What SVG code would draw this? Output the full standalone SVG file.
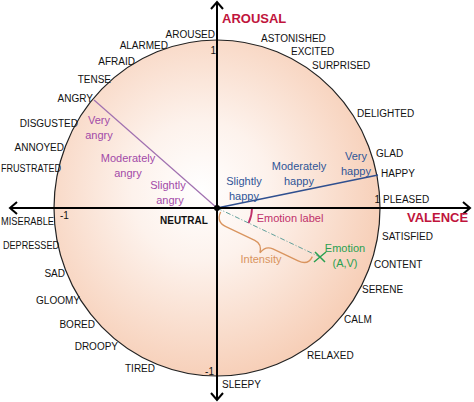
<svg xmlns="http://www.w3.org/2000/svg" width="474" height="402" viewBox="0 0 474 402">
<style>
.l{font-family:"Liberation Sans",Arial,sans-serif;font-size:10px;fill:#111}
.e{text-anchor:end}
.c{font-family:"Liberation Sans",Arial,sans-serif;font-size:11px;text-anchor:middle}
.p{fill:#a24aa8}
.b{fill:#2f5597}
.ax{font-family:"Liberation Sans",Arial,sans-serif;font-size:13px;font-weight:bold;fill:#c0143c}
</style>
<defs>
<radialGradient id="g" cx="0.45" cy="0.45" r="0.6">
<stop offset="0" stop-color="#ffffff"/>
<stop offset="0.35" stop-color="#fdf2ec"/>
<stop offset="1" stop-color="#f6cbb2"/>
</radialGradient>
</defs>
<g id="circle">
<ellipse cx="217" cy="208" rx="163" ry="168" fill="url(#g)" stroke="#222" stroke-width="1.2"/>
</g>
<g id="connectors" fill="none">
<line x1="94" y1="100" x2="217" y2="208" stroke="#a070b0" stroke-width="1.2"/>
<line x1="217" y1="208" x2="378" y2="175" stroke="#2f4f8f" stroke-width="1.5"/>
<line x1="217" y1="208" x2="320" y2="257" stroke="#5f9f9a" stroke-width="1" stroke-dasharray="5 2 1 2"/>
<path d="M252,208 A35,35 0 0 1 248.6,223" stroke="#c0306a" stroke-width="1.8"/>
<path transform="translate(217,208) rotate(25.4)" d="M5,2 Q5,13 16,13 L48,13 Q56,13 58,22 Q60,13 68,13 L96,13 Q107,13 107,3" stroke="#d9945e" stroke-width="1.3"/>
<path d="M315,252 L325,262 M314,262 L326,252" stroke="#2aa050" stroke-width="1.5"/>
<g stroke="#000" stroke-width="2">
<line x1="217" y1="2" x2="217" y2="400"/>
<line x1="10" y1="208" x2="470" y2="208"/>
<polyline points="211,9 217,2 223,9"/>
<polyline points="211,393 217,400 223,393"/>
<polyline points="17,202 10,208 17,214"/>
<polyline points="463,202 470,208 463,214"/>
</g>
<circle cx="217" cy="208" r="3" fill="#000"/>
</g>
<g id="labels">
<text class="l e" x="215" y="38">AROUSED</text>
<text class="l e" x="168" y="49">ALARMED</text>
<text class="l e" x="135" y="65">AFRAID</text>
<text class="l e" x="111" y="83">TENSE</text>
<text class="l e" x="93" y="102">ANGRY</text>
<text class="l e" x="78" y="127">DISGUSTED</text>
<text class="l e" x="64" y="151">ANNOYED</text>
<text class="l" x="1" y="172" textLength="60" lengthAdjust="spacingAndGlyphs">FRUSTRATED</text>
<text class="l" x="1" y="225" textLength="53" lengthAdjust="spacingAndGlyphs">MISERABLE</text>
<text class="l" x="3" y="249" textLength="56" lengthAdjust="spacingAndGlyphs">DEPRESSED</text>
<text class="l e" x="65" y="277">SAD</text>
<text class="l e" x="80" y="304">GLOOMY</text>
<text class="l e" x="95" y="328">BORED</text>
<text class="l e" x="118" y="350">DROOPY</text>
<text class="l e" x="155" y="372">TIRED</text>
<text class="l" x="261" y="42">ASTONISHED</text>
<text class="l" x="291" y="55">EXCITED</text>
<text class="l" x="312" y="69">SURPRISED</text>
<text class="l" x="357" y="117">DELIGHTED</text>
<text class="l" x="376" y="157">GLAD</text>
<text class="l" x="381" y="177">HAPPY</text>
<text class="l" x="383" y="203">PLEASED</text>
<text class="l" x="382" y="240">SATISFIED</text>
<text class="l" x="374" y="268">CONTENT</text>
<text class="l" x="362" y="293">SERENE</text>
<text class="l" x="344" y="323">CALM</text>
<text class="l" x="307" y="359">RELAXED</text>
<text class="l" x="222" y="388">SLEEPY</text>
<text class="l e" x="216" y="54">1</text>
<text class="l e" x="380" y="203">1</text>
<text class="l" x="60" y="219">-1</text>
<text class="l e" x="214" y="375">-1</text>
<text class="l" x="160" y="224" style="font-weight:bold">NEUTRAL</text>
<text class="ax" x="222" y="23">AROUSAL</text>
<text class="ax" x="407" y="222">VALENCE</text>
<text class="c p" x="99" y="124">Very</text>
<text class="c p" x="99" y="139">angry</text>
<text class="c p" x="128" y="162">Moderately</text>
<text class="c p" x="128" y="177">angry</text>
<text class="c p" x="168" y="189">Slightly</text>
<text class="c p" x="170" y="204">angry</text>
<text class="c b" x="244" y="185">Slightly</text>
<text class="c b" x="244" y="200">happy</text>
<text class="c b" x="299" y="170">Moderately</text>
<text class="c b" x="299" y="185">happy</text>
<text class="c b" x="356" y="160">Very</text>
<text class="c b" x="356" y="175">happy</text>
<text class="c" x="290" y="222" style="fill:#c0306a">Emotion label</text>
<text class="c" x="345" y="252" style="fill:#2aa050">Emotion</text>
<text class="c" x="345" y="267" style="fill:#2aa050">(A,V)</text>
<text class="c" x="261" y="263" style="fill:#d9945e">Intensity</text>
</g>
</svg>
